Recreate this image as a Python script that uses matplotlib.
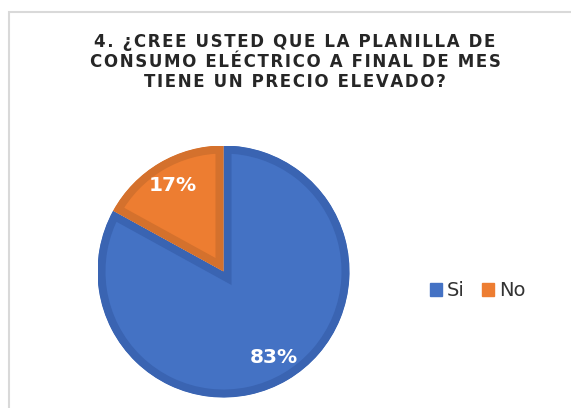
import matplotlib.pyplot as plt
from matplotlib.patches import Rectangle, Patch

# answers to question 4
categorias = ['Si', 'No']
porcentajes = [83, 17]
colores = ['#4472C4', '#ED7D31']
bordes = ['#3A64B2', '#D4712D']

lineas_titulo = ['4. ¿CREE USTED QUE LA PLANILLA DE',
                 'CONSUMO ELÉCTRICO A FINAL DE MES',
                 'TIENE UN PRECIO ELEVADO?']

W, H = 571, 408
fig = plt.figure(figsize=(W / 100, H / 100), dpi=100)

# light frame of the chart area (runs off the right and bottom edge)
fig.patches.append(Rectangle((9 / W, -0.05), 1.0, 1 - 12 / H + 0.05,
                             transform=fig.transFigure, fill=False,
                             edgecolor='#D9D9D9', linewidth=1.5))

# title with a little extra letter spacing
titulo = '\n'.join('\u200a'.join(l) for l in lineas_titulo)
fig.text(295 / W, 1 - 62 / H, titulo, ha='center', va='center',
         fontsize=12, fontweight='bold', color='#262626', linespacing=1.15)

# pie placed by pixel centre / radius
cx, cy, r = 223.5, 271.5, 126
banda_px = 8
ax = fig.add_axes([(cx - r) / W, (H - cy - r) / H, 2 * r / W, 2 * r / H])
wedges, _, autotexts = ax.pie(porcentajes, colors=colores, startangle=90,
                              counterclock=False, autopct='%.0f%%',
                              pctdistance=0.79, radius=1)
# darker inner band on every slice: stroke twice as wide, clipped to the slice
for w, b in zip(wedges, bordes):
    w.set_edgecolor(b)
    w.set_linewidth(2 * banda_px * 72 / 100)
    w.set_clip_on(True)
    w.set_clip_path(w.get_path(), w.get_transform())
for t in autotexts:
    t.set_color('white')
    t.set_fontsize(14.5)
    t.set_fontweight('bold')
ax.set_xlim(-1, 1)
ax.set_ylim(-1, 1)

handles = [Patch(facecolor=c, edgecolor=c) for c in colores]
fig.legend(handles, categorias, loc='center', bbox_to_anchor=(477.5 / W, 1 - 291 / H),
           ncol=2, frameon=False, fontsize=14, handlelength=0.62, handleheight=0.62,
           handletextpad=0.25, columnspacing=0.9, labelcolor='#333333')

fig.savefig('out.png', dpi=100)
